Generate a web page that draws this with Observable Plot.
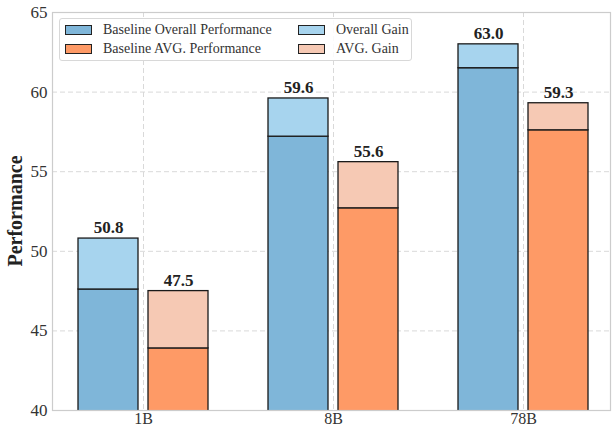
<!DOCTYPE html>
<html>
<head>
<meta charset="utf-8">
<script src="https://cdn.jsdelivr.net/npm/d3@7"></script>
<script src="https://cdn.jsdelivr.net/npm/@observablehq/plot@0.6"></script>
<style>
  html, body { margin: 0; padding: 0; background: #fff; }
  #wrap { position: relative; width: 612px; height: 429px; font-family: "Liberation Serif", "DejaVu Serif", serif; }
  #legend { position: absolute; left: 59px; top: 18px; width: 353px; height: 43px; border: 1px solid #d8d8d8; border-radius: 3px; background: rgba(255,255,255,0.85); box-sizing: border-box; font-size: 14px; color: #333; }
  .li { position: absolute; display: flex; align-items: center; white-space: nowrap; }
  .sw { width: 27px; height: 10px; border: 1.3px solid #222; margin-right: 11px; box-sizing: border-box; }
  #ylabel { position: absolute; left: 15px; top: 211px; transform: translate(-50%, -50%) rotate(-90deg); font-weight: bold; font-size: 20px; color: #222; white-space: nowrap; line-height: 1; }
</style>
</head>
<body>
<div id="wrap">
  <div id="chart"></div>
  <div id="legend"></div>
  <div id="ylabel">Performance</div>
</div>
<script>
const models = ["1B", "8B", "78B"];
const baselineOverall = [47.6, 57.2, 61.5];
const totalOverall = [50.8, 59.6, 63.0];
const baselineAvg = [43.9, 52.7, 57.6];
const totalAvg = [47.5, 55.6, 59.3];
const yTicks = [40, 45, 50, 55, 60, 65];
const seriesNames = ["Baseline Overall Performance", "Baseline AVG. Performance", "Overall Gain", "AVG. Gain"];
const seriesColors = ["#7fb6d9", "#fe9a66", "#a7d4ee", "#f6c9b4"];

const overall = models.map((m, i) => ({model: m, base: baselineOverall[i], total: totalOverall[i]}));
const avg = models.map((m, i) => ({model: m, base: baselineAvg[i], total: totalAvg[i]}));

const font = "Liberation Serif, DejaVu Serif, serif";
const chart = Plot.plot({
  width: 612,
  height: 429,
  marginTop: 12,
  marginBottom: 19,
  marginLeft: 52,
  marginRight: 2,
  style: {fontFamily: font, fontSize: "17px", color: "#333", background: "#fff", overflow: "visible"},
  x: {domain: models, range: [48, 618], padding: 0, label: null},
  y: {domain: [yTicks[0], yTicks[yTicks.length - 1]], label: null},
  marks: [
    Plot.gridY(yTicks, {stroke: "#d9d9d9", strokeOpacity: 1, strokeDasharray: "5,3", strokeWidth: 1}),
    Plot.gridX(models, {stroke: "#d9d9d9", strokeOpacity: 1, strokeDasharray: "5,3", strokeWidth: 1}),
    Plot.axisY(yTicks, {tickSize: 0, tickPadding: 5, fontSize: 17, label: null}),
    Plot.axisX(models, {tickSize: 0, tickPadding: 2, fontSize: 16, label: null}),
    Plot.barY(overall, {x: "model", y: "base", fill: seriesColors[0], stroke: "#1a1a1a", strokeWidth: 1.3, insetLeft: 30, insetRight: 100, clip: true}),
    Plot.barY(overall, {x: "model", y1: "base", y2: "total", fill: seriesColors[2], stroke: "#1a1a1a", strokeWidth: 1.3, insetLeft: 30, insetRight: 100}),
    Plot.barY(avg, {x: "model", y: "base", fill: seriesColors[1], stroke: "#1a1a1a", strokeWidth: 1.3, insetLeft: 100, insetRight: 30, clip: true}),
    Plot.barY(avg, {x: "model", y1: "base", y2: "total", fill: seriesColors[3], stroke: "#1a1a1a", strokeWidth: 1.3, insetLeft: 100, insetRight: 30}),
    Plot.text(overall, {x: "model", y: "total", text: d => d.total.toFixed(1), dx: -35, dy: -11, fontWeight: "bold", fontSize: 17, fill: "#222"}),
    Plot.text(avg, {x: "model", y: "total", text: d => d.total.toFixed(1), dx: 35, dy: -11, fontWeight: "bold", fontSize: 17, fill: "#222"}),
    Plot.frame({stroke: "#cccccc", strokeWidth: 1.2})
  ]
});
document.getElementById("chart").appendChild(chart);

const legend = document.getElementById("legend");
const order = [0, 2, 1, 3];
const pos = [[5, 3], [238, 3], [5, 22], [238, 22]];
order.forEach((k, j) => {
  const el = document.createElement("div");
  el.className = "li";
  el.style.left = pos[j][0] + "px";
  el.style.top = pos[j][1] + "px";
  const sw = document.createElement("div");
  sw.className = "sw";
  sw.style.background = seriesColors[k];
  const tx = document.createElement("span");
  tx.textContent = seriesNames[k];
  el.appendChild(sw);
  el.appendChild(tx);
  legend.appendChild(el);
});
</script>
</body>
</html>
